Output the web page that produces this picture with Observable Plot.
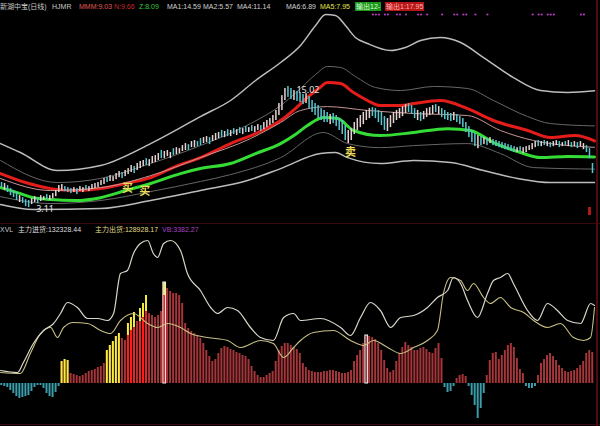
<!DOCTYPE html>
<html><head><meta charset="utf-8">
<script src="https://cdn.jsdelivr.net/npm/d3@7"></script>
<script src="https://cdn.jsdelivr.net/npm/@observablehq/plot@0.6"></script>
<style>
html,body{margin:0;padding:0;background:#000;}
#wrap{position:relative;width:600px;height:426px;background:#000;overflow:hidden;font-family:"Liberation Sans","Noto Sans CJK SC",sans-serif;}
.t{position:absolute;font-size:7px;line-height:9px;white-space:nowrap;z-index:3;}
#up{position:absolute;left:0;top:0;z-index:1;}
#lo{position:absolute;left:0;top:233px;z-index:1;}
.bx{padding:0 1px;}
</style></head><body>
<div id="wrap">
  <div id="up"></div>
  <div id="lo"></div>
  <div id="hdr"></div>
  <div style="position:absolute;left:0;top:223px;width:600px;height:1px;background:#3a0a0a;z-index:2"></div>
  <div style="position:absolute;left:596px;top:0;width:2px;height:426px;background:#4a0c0c;z-index:2"></div>
  <div style="position:absolute;left:0;top:424px;width:600px;height:1px;background:#3a0a14;z-index:2"></div>
  <div style="position:absolute;left:588px;top:207px;width:3px;height:8px;background:#b01818;z-index:2"></div>
</div>
<script>
// ---------- upper panel: daily candles (price) ----------
const candleHigh = [5.57,5.47,5.27,4.97,4.78,4.58,4.28,4.08,3.88,3.80,
3.98,4.18,4.08,4.28,4.18,4.38,4.28,4.48,4.78,5.27,
5.37,5.17,5.07,4.97,5.07,4.97,5.17,5.07,5.27,5.17,
5.37,5.47,5.57,5.77,5.97,6.07,6.25,6.15,6.45,6.65,
6.55,6.75,6.94,7.24,7.14,7.44,7.64,7.74,7.92,7.82,
8.12,8.22,8.42,8.72,8.62,8.72,8.52,8.90,9.00,8.90,
9.20,9.40,9.30,9.60,9.70,9.60,9.89,9.99,10.09,9.99,
10.19,10.39,10.49,10.69,10.59,10.77,10.69,10.87,10.77,10.97,
10.87,11.07,10.97,11.17,11.07,11.27,11.17,11.47,11.67,11.86,
12.16,12.66,13.34,14.12,14.82,15.02,14.82,14.62,14.52,14.42,
14.22,14.32,14.02,13.64,13.34,13.14,12.84,12.66,12.46,12.26,
12.36,12.16,11.86,11.67,11.17,10.69,10.87,11.47,11.86,12.16,
12.46,12.66,12.84,12.94,12.84,12.66,12.46,12.06,11.86,12.16,
12.46,12.66,12.84,13.04,13.24,13.34,13.14,12.84,12.66,12.46,
12.56,12.84,12.94,13.14,13.24,13.04,12.84,12.66,12.46,12.36,
12.46,12.26,12.06,11.86,11.47,11.07,10.69,10.39,10.19,10.09,
9.99,9.89,9.99,9.79,9.70,9.60,9.50,9.40,9.30,9.20,
9.10,9.00,9.10,9.00,9.10,9.20,9.40,9.60,9.70,9.60,
9.70,9.60,9.50,9.60,9.70,9.60,9.50,9.60,9.70,9.50,
9.60,9.50,9.60,9.40,9.20,8.90,7.44];
const candleLow = [5.07,4.78,4.58,4.28,4.08,3.80,3.60,3.50,3.20,3.11,
3.40,3.60,3.50,3.70,3.80,3.88,3.80,3.98,4.18,4.58,
4.78,4.68,4.58,4.48,4.58,4.38,4.68,4.58,4.78,4.68,
4.87,4.97,5.07,5.27,5.37,5.57,5.67,5.67,5.85,6.05,
5.95,6.15,6.35,6.55,6.45,6.75,6.94,7.14,7.24,7.14,
7.44,7.54,7.74,7.92,7.92,8.12,7.92,8.22,8.32,8.42,
8.62,8.72,8.72,9.00,9.00,9.10,9.20,9.40,9.50,9.30,
9.60,9.70,9.89,9.99,9.99,10.09,10.09,10.29,10.19,10.39,
10.29,10.49,10.49,10.59,10.49,10.69,10.59,10.77,10.97,11.17,
11.37,11.67,12.16,12.66,13.64,13.94,13.74,13.64,13.54,13.44,
13.24,13.34,12.84,12.46,12.16,11.86,11.67,11.47,11.47,11.27,
11.37,11.07,10.69,10.29,9.70,9.40,9.70,10.29,10.69,10.97,
11.27,11.67,11.86,12.06,11.86,11.47,11.17,10.69,10.59,10.97,
11.37,11.67,11.86,12.06,12.36,12.46,12.26,11.86,11.67,11.57,
11.76,11.96,12.16,12.26,12.46,12.26,11.96,11.76,11.67,11.57,
11.67,11.47,11.27,10.97,10.49,9.99,9.50,9.10,8.90,9.20,
9.30,9.20,9.40,9.20,9.10,9.00,8.90,8.80,8.72,8.62,
8.52,8.52,8.62,8.42,8.52,8.72,8.80,9.00,9.10,9.10,
9.20,9.10,9.00,9.10,9.20,9.00,9.10,9.20,9.10,9.00,
9.10,8.90,9.10,8.80,8.52,7.92,6.45];
const candleDir = "dudddduddd"+"uuduuduuuu"+"uddduduudu"+"uuuuuduuuu"+"duuuduuudu"+
"uuuduuuduu"+"uuduudduud"+"uuudududud"+"ududuuduuu"+"uuuuuddudd"+
"dudddddddu"+"ddddduuuuu"+"uuuddddduu"+"uuuuudddud"+"uuuududddd"+
"udddddddud"+"ududdddddd"+"duduuuuudu"+"duduududud"+"uduuddd";

// ---------- upper panel: indicator lines (t = day position, v = price) ----------
const ma1T = [0,6.6,18.9,33.2,49.8,59.7,66.3,76.3,84.6,92.9,99.5,104.5,107.8,111.1,114.4,117.7,121.7,129.4,134.3,139.3,145.9,152.6,160.2,170.1,179.1,188.1,197];
const ma1V = [9.40,8.52,6.75,7.24,9.40,10.97,12.06,13.64,15.61,17.38,19.05,21.02,22.10,22.00,21.02,19.84,19.25,18.56,18.86,19.54,19.84,19.35,17.87,15.90,14.62,14.42,14.59];
const ma4T = [0,18.9,33.2,49.8,66.3,82.9,92.9,99.5,104.5,108.5,112.8,117.7,124.4,132.7,143.6,154.9,163.5,174.8,182.4,197];
const ma4V = [7.74,5.57,5.97,7.44,9.20,11.37,13.14,14.82,16.20,16.99,16.89,16.00,14.92,14.62,15.02,14.82,13.64,12.06,11.37,11.14];
const ma6T = [0,16.6,33.2,49.8,66.3,76.3,92.9,107.1,115.1,126.0,137.0,154.9,165.8,176.8,197];
const ma6V = [4.18,3.50,3.80,4.68,5.67,6.35,8.02,10.49,9.40,9.00,9.20,9.40,8.42,7.04,6.89];
const ma2T = [0,10.9,33.2,49.8,66.3,81.9,92.9,106.1,111.1,115.1,126.0,137.0,149.3,160.2,171.5,182.4,197];
const ma2V = [3.40,2.91,3.01,3.80,4.78,5.77,6.94,8.42,8.52,8.02,7.44,7.74,7.54,6.75,5.97,5.57,5.57];
const redT = [0,8.3,16.6,24.9,33.2,41.5,49.8,58.0,66.3,76.3,84.6,92.9,97.8,101.8,105.5,108.5,112.8,117.1,121.7,126.0,132.7,137.0,145.9,154.9,163.5,174.8,182.4,190.7,197];
const redV = [6.45,5.57,4.97,4.78,4.97,5.47,6.05,7.14,8.02,9.40,10.39,11.67,12.84,13.94,14.82,15.41,15.31,14.42,13.64,13.14,13.14,13.34,13.64,12.84,11.67,10.69,9.99,10.19,9.66];
const greenT = [0,5.6,10.9,16.6,24.9,33.2,41.5,49.8,59.7,66.3,76.3,84.6,92.9,97.8,101.8,107.1,111.8,117.1,126.0,137.0,148.3,155.9,163.5,172.5,179.1,188.1,197];
const greenV = [5.07,4.58,4.08,3.90,3.80,4.08,4.78,5.47,6.45,6.94,7.44,8.42,9.40,10.29,11.17,11.97,11.86,10.69,10.19,10.49,10.87,10.69,9.50,8.52,8.02,8.12,8.09];
const pinkT = [0,16.6,33.2,49.8,66.3,82.9,92.9,99.5,108.5,121.7,137.0,154.9,165.8,176.8,197];
const pinkV = [5.97,4.78,5.07,6.25,8.02,9.89,11.47,12.66,13.04,12.66,12.36,12.16,10.69,9.70,9.03];

// signals
const buyT = [42.1,47.8], buyP = [4.97,4.68];
const sellT = [116.1], sellP = [8.52];
const topSignalDays = [123,124,125,127,128,131,132,134,138,139,141,146,150,151,153,154,157,161,176,178,179,181,182,183,192,193];

// ---------- lower panel ----------
const histVal = [-2,-3,-4,-7,-10,-13,-15,-14,-13,-12,
-8,-4,-2,-2,-5,-10,-13,-14,-9,-3,
22,24,23,10,9,8,7,8,10,12,
13,14,16,17,20,33,38,42,47,50,
45,43,60,66,71,62,75,80,88,70,
68,66,68,72,101,95,92,90,90,88,
80,60,55,52,50,47,45,40,33,27,
22,24,30,35,37,36,34,33,31,30,
28,27,24,17,12,8,6,6,8,10,
12,22,33,37,40,40,38,36,34,30,
20,16,13,12,11,11,11,12,12,13,
13,12,11,10,10,11,13,22,28,33,
40,48,47,46,44,40,33,23,15,11,
13,22,30,36,41,38,36,33,33,35,
36,34,31,30,35,40,25,-4,-9,-8,
-3,5,8,9,7,-3,-12,-22,-35,-25,
-10,8,23,30,31,24,28,33,38,40,
36,25,14,10,-3,-5,-5,-3,8,20,
24,28,30,27,23,18,15,12,11,12,
13,15,18,22,30,33,31];
const sigDays = [20,21,22,35,36,37,38,39,42,43,44,46,47,48,54];
const sigRed  = [0,0,0,0,0,0,0,0,48,53,56,62,66,72,88];
const outlineDays = [54,121];
const inT = [0,5.6,7.6,10.9,14.3,17.6,19.9,22.2,25.5,28.9,32.2,35.5,37.5,39.8,42.1,44.1,46.4,48.8,50.7,52.1,54.1,56.4,59.7,62.0,66.3,69.7,72.0,75.3,78.6,82.9,86.2,90.5,93.9,97.2,99.5,106.1,112.8,116.1,119.4,122.7,126.0,129.4,132.7,137.0,141.6,144.9,148.3,150.2,152.6,154.9,158.2,161.5,163.5,165.8,168.2,170.1,174.8,178.1,181.4,184.7,188.1,192.4,195.7,197];
const inV = [13,11,21,40,53,60,70,81,76,65,65,63,70,110,113,130,140,143,130,126,140,143,133,110,93,76,70,76,73,56,46,43,66,70,63,65,56,48,66,81,73,56,66,68,76,86,93,106,100,83,66,90,103,106,110,100,73,63,80,73,63,60,80,78];
const outT = [0,6.6,9.9,13.3,16.6,18.9,20.9,24.2,28.9,33.2,36.5,39.8,44.1,48.8,52.1,55.4,59.7,63.0,68.7,75.3,79.6,86.2,90.5,93.9,97.2,99.5,103.8,110.4,116.1,120.4,123.7,128.4,132.7,137.0,141.6,144.9,146.9,149.3,152.6,154.9,156.9,160.2,162.5,165.8,169.2,173.5,176.8,181.4,185.7,190.0,193.4,195.7,197];
const outV = [11,10,30,50,56,46,56,61,60,53,50,63,70,60,56,60,56,50,46,43,36,43,40,26,36,43,51,53,43,38,43,36,30,36,43,53,90,106,103,93,100,86,80,86,76,71,63,56,60,46,43,46,76];

// ---------- build ----------
const pts = (T,V) => T.map((t,i)=>({t, v:V[i]}));
const candles = candleHigh.map((h,i)=>({t:i+0.5, hi:h, lo:candleLow[i], c: candleDir[i]==="u" ? "#e6d2d2" : "#58c6d0"}));
const hiIdx = candleHigh.indexOf(d3.max(candleHigh));
const loIdx = candleLow.indexOf(d3.min(candleLow));
const ln = (T,V,stroke,w) => Plot.line(pts(T,V), {x:"t", y:"v", stroke, strokeWidth:w, curve:"monotone-x"});

const upper = Plot.plot({
  width:600, height:225, margin:0, marginRight:6,
  x:{domain:[0,197], axis:null}, y:{domain:[1.34,23.48], axis:null},
  color:{type:"identity"},
  style:{background:"transparent"},
  marks:[
    ln(ma1T,ma1V,"#bcbcbc",1.5),
    ln(ma2T,ma2V,"#bcbcbc",1.5),
    ln(ma4T,ma4V,"#666666",1),
    ln(ma6T,ma6V,"#666666",1),
    ln(redT,redV,"#e41d1a",3),
    ln(greenT,greenV,"#36dc36",3),
    ln(pinkT,pinkV,"#c89494",1),
    Plot.rect(candles, {x1:d=>d.t-0.25, x2:d=>d.t+0.25, y1:"lo", y2:"hi", fill:"c"}),
    Plot.text([{t:hiIdx+0.5, p:candleHigh[hiIdx]}], {x:"t", y:"p", text:d=>d.p.toFixed(2), dx:8, dy:4, textAnchor:"start", fill:"#e6e6e6", fontSize:9}),
    Plot.text([{t:loIdx+0.5, p:candleLow[loIdx]}], {x:"t", y:"p", text:d=>d.p.toFixed(2), dx:7, dy:2, textAnchor:"start", fill:"#e6e6e6", fontSize:9}),
    Plot.text(buyT.map((t,i)=>({t, p:buyP[i]})), {x:"t", y:"p", text:()=>"买", fill:"#ecdc5a", fontSize:11, fontWeight:"bold", fontFamily:"Noto Sans CJK SC"}),
    Plot.text(sellT.map((t,i)=>({t, p:sellP[i]})), {x:"t", y:"p", text:()=>"卖", fill:"#ecdc5a", fontSize:11, fontWeight:"bold", fontFamily:"Noto Sans CJK SC"}),
    Plot.dot(topSignalDays, {x:d=>d+0.5, y:22.1, r:1.1, fill:"#b83cc0"})
  ]
});
document.getElementById("up").appendChild(upper);

const bars = histVal.map((v,i)=>({i, v}));
const specials = sigDays.map((d,k)=>({i:d, r:sigRed[k], v:histVal[d]}));
const lower = Plot.plot({
  width:600, height:193, margin:0, marginRight:6,
  x:{domain:[0,197], axis:null}, y:{domain:[-43,150], axis:null},
  color:{type:"identity"},
  style:{background:"transparent"},
  marks:[
    Plot.rect(bars, {x1:d=>d.i+0.1, x2:d=>d.i+0.75, y1:0, y2:"v", fill:d=>d.v<0?"#3c9eac":"#a6363a"}),
    Plot.rect(specials.filter(s=>s.r>0), {x1:d=>d.i+0.1, x2:d=>d.i+0.75, y1:0, y2:"r", fill:"#ff1c1c"}),
    Plot.rect(specials, {x1:d=>d.i+0.1, x2:d=>d.i+0.75, y1:"r", y2:"v", fill:"#f4ee3c"}),
    Plot.rect(outlineDays.map(d=>({i:d, v:histVal[d]})), {x1:d=>d.i, x2:d=>d.i+0.9, y1:0, y2:"v", fill:"none", stroke:"#f0f0f0", strokeWidth:1}),
    Plot.line(pts(outT,outV), {x:"t", y:"v", stroke:"#c8c084", strokeWidth:1.1, curve:"monotone-x"}),
    Plot.line(pts(inT,inV), {x:"t", y:"v", stroke:"#d8d6c8", strokeWidth:1.2, curve:"monotone-x"})
  ]
});
document.getElementById("lo").appendChild(lower);

// ---------- header texts ----------
const last = a => a[a.length-1].toFixed(2);
const hdr = [
  [0,2,"新湖中宝(日线)","#c8c8c8",""],
  [52,2,"HJMR","#c8c8c8",""],
  [79,2,"MMM:"+last(pinkV),"#e05a5a",""],
  [114,2,"N:"+last(redV),"#c82828",""],
  [139,2,"Z:"+last(greenV),"#3cc83c",""],
  [167,2,"MA1:"+last(ma1V),"#d2d2d2",""],
  [203,2,"MA2:"+last(ma2V),"#d2d2d2",""],
  [237,2,"MA4:"+last(ma4V),"#d2d2d2",""],
  [286,2,"MA6:"+last(ma6V),"#d2d2d2",""],
  [320,2,"MA5:7.95","#e4e44c",""],
  [355,2,"输出12-","#d8ffd8","#1c961c"],
  [385,2,"输出1:17.95","#ffb4b4","#b81616"],
  [0,225,"XVL","#c8c8c8",""],
  [18,225,"主力进货:132328.44","#dcdcdc",""],
  [95,225,"主力出货:128928.17","#e2dc8c",""],
  [162,225,"VB:3382.27","#a844c4",""]
];
const H = document.getElementById("hdr");
hdr.forEach(([x,y,s,c,bg])=>{
  const e = document.createElement("div");
  e.className = "t" + (bg ? " bx" : "");
  e.style.left = x+"px"; e.style.top = y+"px"; e.style.color = c;
  if (bg) e.style.background = bg;
  e.textContent = s;
  H.appendChild(e);
});
</script>
</body></html>
